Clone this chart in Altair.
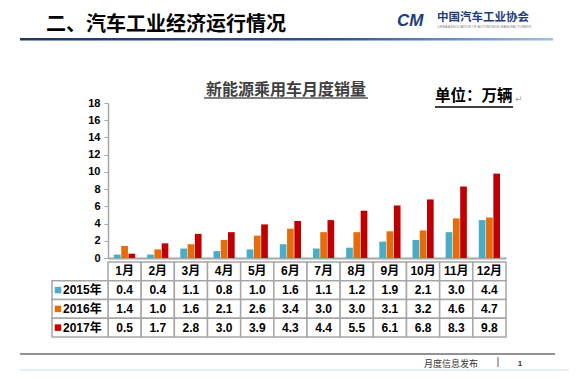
import altair as alt
import pandas as pd

# ---------------- data ----------------
months = ['1月', '2月', '3月', '4月', '5月', '6月', '7月', '8月', '9月', '10月', '11月', '12月']
series = ['2015年', '2016年', '2017年']
v2015 = [0.4, 0.4, 1.1, 0.8, 1.0, 1.6, 1.1, 1.2, 1.9, 2.1, 3.0, 4.4]
v2016 = [1.4, 1.0, 1.6, 2.1, 2.6, 3.4, 3.0, 3.0, 3.1, 3.2, 4.6, 4.7]
v2017 = [0.5, 1.7, 2.8, 3.0, 3.9, 4.3, 4.4, 5.5, 6.1, 6.8, 8.3, 9.8]
colors = ['#4BACC6', '#E46C0A', '#C00000']
y_ticks = [0, 2, 4, 6, 8, 10, 12, 14, 16, 18]
slide_title = '二、汽车工业经济运行情况'
chart_title = '新能源乘用车月度销量'
unit_label = '单位：万辆'
org_cn = '中国汽车工业协会'
org_en = 'CHINA ASSOCIATION OF AUTOMOBILE MANUFACTURERS'
footer_text = '月度信息发布'
page_no = '1'

# ---------------- tables built from the lists ----------------
values = [v2015, v2016, v2017]
bars_df = pd.DataFrame([
    {'month': m, 'series': s, 'value': v}
    for s, vals in zip(series, values) for m, v in zip(months, vals)
])
rows = ['hdr'] + series
cells = [{'month': m, 'row': 'hdr', 'text': m} for m in months]
cells += [{'month': m, 'row': s, 'text': f'{v:.1f}'}
          for s, vals in zip(series, values) for m, v in zip(months, vals)]
cells_df = pd.DataFrame(cells)
labels_df = pd.DataFrame({'row': series, 'col': ['lbl'] * 3,
                          'sq': ['sq'] * 3, 'tx': ['tx'] * 3})
one = pd.DataFrame({'k': [0]})

W, H = 398, 155
CJK = 'Noto Sans CJK SC'
NUM = 'Liberation Sans, Noto Sans CJK SC'
GRID = '#A6A6A6'

# ---------------- bars ----------------
bars = alt.Chart(bars_df).mark_bar().encode(
    x=alt.X('month:N', sort=months,
            scale=alt.Scale(domain=months, paddingInner=0.36, paddingOuter=0.18),
            axis=alt.Axis(labels=False, ticks=False, title=None,
                          domainColor=GRID, domainWidth=2)),
    xOffset=alt.XOffset('series:N', sort=series,
                        scale=alt.Scale(domain=series, paddingInner=0.08)),
    y=alt.Y('value:Q', scale=alt.Scale(domain=[0, 18], nice=False),
            axis=alt.Axis(values=y_ticks, title=None, grid=False,
                          labelFont='Liberation Sans', labelFontWeight='bold',
                          labelFontSize=11, labelColor='#000000',
                          tickColor=GRID, domainColor=GRID, domainWidth=1.5,
                          tickSize=4, labelPadding=4)),
    color=alt.Color('series:N', scale=alt.Scale(domain=series, range=colors), legend=None),
)

# ---------------- data table ----------------
tx_x = alt.X('month:N', scale=alt.Scale(domain=months, paddingInner=0, paddingOuter=0), axis=None)
tx_y = alt.Y('row:N', scale=alt.Scale(domain=rows, range=[159, 234], paddingInner=0, paddingOuter=0), axis=None)

cell_rects = alt.Chart(cells_df).mark_rect(fill='white', stroke=GRID, strokeWidth=1.5).encode(x=tx_x, y=tx_y)
cell_text = alt.Chart(cells_df).mark_text(font=NUM, fontWeight='bold', fontSize=12,
                                          color='#000000', baseline='middle').encode(
    x=tx_x, y=tx_y, text='text:N')

lbl_y = alt.Y('row:N', scale=alt.Scale(domain=rows, range=[159, 234], paddingInner=0, paddingOuter=0), axis=None)
lbl_rects = alt.Chart(labels_df).mark_rect(fill='white', stroke=GRID, strokeWidth=1.5).encode(
    x=alt.X('col:N', scale=alt.Scale(domain=['lbl'], range=[-56, 0], paddingInner=0, paddingOuter=0), axis=None),
    y=lbl_y)
part_scale = alt.Scale(type='point', domain=['sq', 'tx'], range=[-50, -45], padding=0)
lbl_sq = alt.Chart(labels_df).mark_square(size=42, opacity=1, filled=True).encode(
    x=alt.X('sq:N', scale=part_scale, axis=None), y=lbl_y,
    color=alt.Color('row:N', scale=alt.Scale(domain=series, range=colors), legend=None))
lbl_text = alt.Chart(labels_df).mark_text(font=NUM, fontWeight='bold', fontSize=12, align='left',
                                          baseline='middle', color='#000000').encode(
    x=alt.X('tx:N', scale=part_scale, axis=None), y=lbl_y, text='row:N')


# ---------------- slide decorations ----------------
def txt(text, x, y, **kw):
    return alt.Chart(one).mark_text(text=text, baseline='middle', **kw).encode(
        x=alt.value(x), y=alt.value(y))


def rule(x, x2, y, color, width):
    return alt.Chart(one).mark_rule(color=color, strokeWidth=width).encode(
        x=alt.value(x), x2=alt.value(x2), y=alt.value(y))


grad = alt.LinearGradient(gradient='linear', x1=0, x2=1, y1=0, y2=0, stops=[
    alt.GradientStop(color='#1F3864', offset=0),
    alt.GradientStop(color='#2F5597', offset=0.6),
    alt.GradientStop(color='#9DC3E6', offset=1)])
title_line = alt.Chart(one).mark_rect(fill=grad).encode(
    x=alt.value(-88), x2=alt.value(445), y=alt.value(-65), y2=alt.value(-62.5))

decor = [
    txt(slide_title, -62, -78, align='left', font=CJK, fontWeight='bold', fontSize=20, color='#000000'),
    title_line,
    txt('CM', 289, -82, align='left', font='Liberation Sans', fontStyle='italic', fontWeight='bold',
        fontSize=17, color='#1F3D7A'),
    txt(org_cn, 329, -85, align='left', font=CJK, fontWeight='bold', fontSize=11.5, color='#1F3D7A'),
    txt(org_en, 329, -76, align='left', font='Liberation Sans', fontSize=3.4, color='#7F7F7F'),
    txt(chart_title, 178, -13, align='center', font=CJK, fontWeight='bold', fontSize=16, color='#404040'),
    rule(96, 260, -5, '#595959', 1.5),
    txt(unit_label, 327, -7, align='left', font=CJK, fontWeight='bold', fontSize=15.5, color='#000000'),
    rule(327, 405, 4, '#000000', 1.5),
    txt('↵', 407, -4, align='left', font='DejaVu Sans', fontSize=9, color='#A0A0A0'),
    rule(-88, 447, 251, '#6E6E6E', 1.5),
    rule(-88, 467, 267, '#E3ECF7', 2),
    txt(footer_text, 343, 261, align='center', font=CJK, fontSize=9, color='#333333'),
    txt('|', 390, 259, align='center', font='Liberation Sans', fontSize=11, color='#555555'),
    txt(page_no, 412, 261, align='center', font='Liberation Sans', fontWeight='bold', fontSize=8, color='#333333'),
]

chart = alt.layer(
    bars, cell_rects, cell_text, lbl_rects, lbl_sq, lbl_text, *decor
).resolve_scale(
    x='independent', y='independent', color='independent'
).properties(
    width=W, height=H,
    padding={'left': 100, 'top': 95, 'right': 63, 'bottom': 113},
    autosize=alt.AutoSizeParams(type='none'),
    background='white',
).configure_view(stroke=None)

chart.save('out.html', embed_options={'renderer': 'svg', 'actions': False})
